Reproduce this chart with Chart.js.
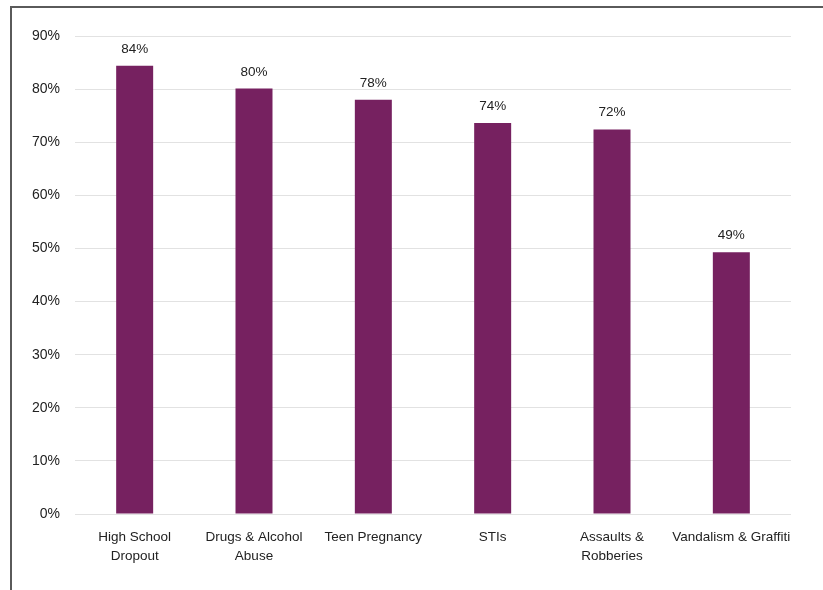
<!DOCTYPE html>
<html>
<head>
<meta charset="utf-8">
<script src="https://cdn.jsdelivr.net/npm/chart.js@4"></script>
<style>
    html, body { margin: 0; padding: 0; background: #fff; overflow: hidden; }
    .frame {
        position: absolute; left: 10px; top: 6px; width: 900px; height: 700px;
        border-left: 2px solid #5a5a5a; border-top: 2px solid #5a5a5a;
    }
    .wrap { position: absolute; left: 0; top: 0; width: 823px; height: 590px; }
</style>
</head>
<body>
<div class="frame"></div>
<div class="wrap"><canvas id="chart" width="823" height="590"></canvas></div>
<script>
// ── Data ─────────────────────────────────────────────────────
const categories = [
    ['High School', 'Dropout'],
    ['Drugs & Alcohol', 'Abuse'],
    'Teen Pregnancy',
    'STIs',
    ['Assaults &', 'Robberies'],
    'Vandalism & Graffiti'
];
const values = [84.4, 80.1, 78.0, 73.6, 72.4, 49.3];
const valueLabels = ['84%', '80%', '78%', '74%', '72%', '49%'];
const yTicks = [0, 10, 20, 30, 40, 50, 60, 70, 80, 90];

const FONT = 'Liberation Sans, Arial, sans-serif';

// ── Value labels above bars ─────────────────────────────────
const barLabels = {
    id: 'barLabels',
    afterDatasetsDraw(chart) {
        const ctx = chart.ctx;
        const meta = chart.getDatasetMeta(0);
        ctx.save();
        ctx.font = `13.5px ${FONT}`;
        ctx.fillStyle = '#222';
        ctx.textAlign = 'center';
        ctx.textBaseline = 'bottom';
        meta.data.forEach((bar, i) => {
            ctx.fillText(valueLabels[i], bar.x, bar.y - 10);
        });
        ctx.restore();
    }
};

new Chart(document.getElementById('chart'), {
    type: 'bar',
    data: {
        labels: categories,
        datasets: [{
            data: values,
            backgroundColor: '#762160',
            borderWidth: 0,
            barPercentage: 0.31,
            categoryPercentage: 1
        }]
    },
    options: {
        responsive: false,
        animation: false,
        layout: { padding: { left: 0, top: 36, right: 32, bottom: 0 } },
        plugins: { legend: { display: false }, tooltip: { enabled: false } },
        scales: {
            x: {
                afterFit: s => { s.height = 76; },
                grid: { display: false, drawTicks: false },
                border: { display: false },
                ticks: {
                    color: '#222', padding: 14, maxRotation: 0, autoSkip: false,
                    font: { family: FONT, size: 13.5, lineHeight: 1.4 }
                }
            },
            y: {
                min: 0, max: 90,
                afterFit: s => { s.width = 75; },
                afterBuildTicks: s => { s.ticks = yTicks.map(v => ({ value: v })); },
                grid: { color: '#e2e2e2', lineWidth: 1, drawTicks: false },
                border: { display: false },
                ticks: {
                    color: '#222', padding: 15,
                    font: { family: FONT, size: 14 },
                    callback: v => v + '%'
                }
            }
        }
    },
    plugins: [barLabels]
});
</script>
</body>
</html>
